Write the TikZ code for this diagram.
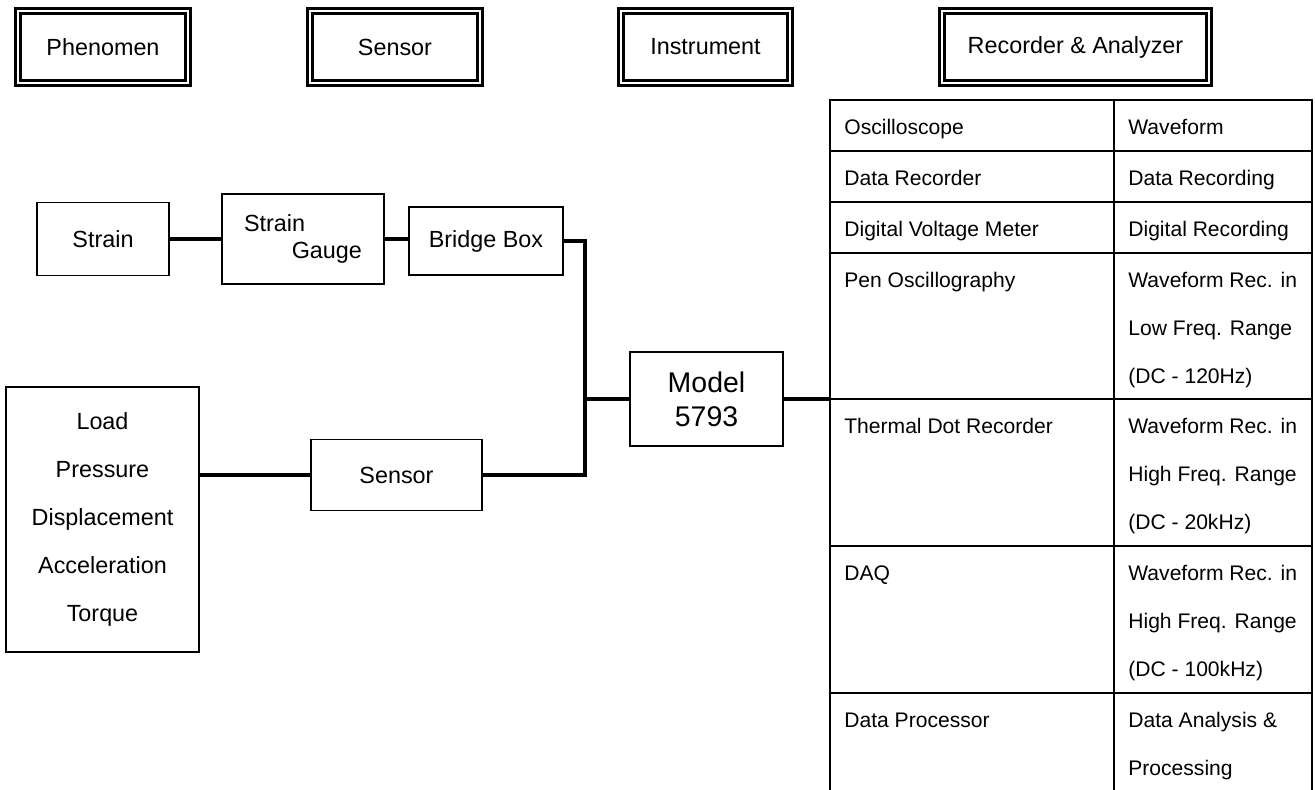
\documentclass[tikz,border=0pt]{standalone}
\usepackage{fontspec}
\setmainfont{Liberation Sans}

\tikzset{
  head/.style={draw, double, line width=0.05cm, double distance=0.05cm,
    minimum height=1.45cm, inner sep=0pt, font=\fontsize{13.3}{16}\selectfont},
  blk/.style={draw, line width=1.1pt, inner sep=0pt, font=\fontsize{13.3}{16}\selectfont},
  wire/.style={line width=2pt},
  grid/.style={line width=1.35pt},
  cell/.style={anchor=north west, inner sep=0pt, align=left,
    font=\fontsize{12}{27.2}\selectfont}
}

\begin{document}
\begin{tikzpicture}[x=0.02cm, y=-0.02cm]
    \useasboundingbox (0,0) rectangle (1315,790);

    % Column headings
    \node[head, minimum width=3.41cm] (hphen) at (103,47) {Phenomen};
    \node[head, minimum width=3.41cm] (hsens) at (395,47) {Sensor};
    \node[head, minimum width=3.39cm] (hinst) at (705.5,47) {Instrument};
    \node[head, minimum width=5.35cm] (hrec) at (1075.5,47) {Recorder \& Analyzer};

    % Strain chain
    \node[blk, minimum width=2.64cm, minimum height=1.46cm] (strain) at (103,239) {Strain};
    \node[blk, minimum width=3.24cm, minimum height=1.8cm, align=left,
        font=\fontsize{13.3}{15.3}\selectfont] (gauge) at (303,239) {Strain\\\hspace*{2.04em}Gauge};
    \node[blk, minimum width=3.08cm, minimum height=1.36cm] (bridge) at (486,241) {Bridge Box};

    % Other phenomena
    \node[blk, minimum width=3.86cm, minimum height=5.3cm, align=center,
        font=\fontsize{13.3}{27.2}\selectfont] (load) at (102.5,519.5)
        {Load\\Pressure\\Displacement\\Acceleration\\Torque};
    \node[blk, minimum width=3.42cm, minimum height=1.42cm] (sens) at (396.5,475) {Sensor};

    % Instrument
    \node[blk, minimum width=3.06cm, minimum height=1.88cm, align=center,
        font=\fontsize{16.2}{19.3}\selectfont] (model) at (706.5,399) {Model\\5793};

    % Connectors
    \coordinate (jn) at (585,399);
    \coordinate (rec) at (830,399);
    \draw[wire] (strain) -- (gauge);
    \draw[wire] (gauge.east) -- (gauge.east -| bridge.west);
    \draw[wire] (bridge.east) -| (jn);
    \draw[wire] (jn) |- (sens.east);
    \draw[wire] (load.east |- sens.west) -- (sens.west);
    \draw[wire] (jn) -- (model);
    \draw[wire] (model) -- (rec);

    % Recorder table
    \draw[grid] (830,790) |- (1312,100) -- (1312,790);
    \draw[grid] (1114,100) -- (1114,790);
    \foreach \y in {151,202,253,399,546,693} {
        \draw[grid] (830,\y) -- (1312,\y);
    }
    \foreach \y/\dev/\use in {
        100/Oscilloscope/Waveform,
        151/Data Recorder/Data Recording,
        202/Digital Voltage Meter/Digital Recording,
        253/Pen Oscillography/{Waveform Rec. in\\Low Freq. Range\\(DC - 120Hz)},
        399/Thermal Dot Recorder/{Waveform Rec. in\\High Freq. Range\\(DC - 20kHz)},
        546/DAQ/{Waveform Rec. in\\High Freq. Range\\(DC - 100kHz)},
        693/Data Processor/{Data Analysis \&\\Processing}} {
        \node[cell] (dev\y) at (844,\y+1) {\strut\dev};
        \node[cell] (use\y) at (1128,\y+1) {\strut\use};
    }
\end{tikzpicture}
\end{document}
